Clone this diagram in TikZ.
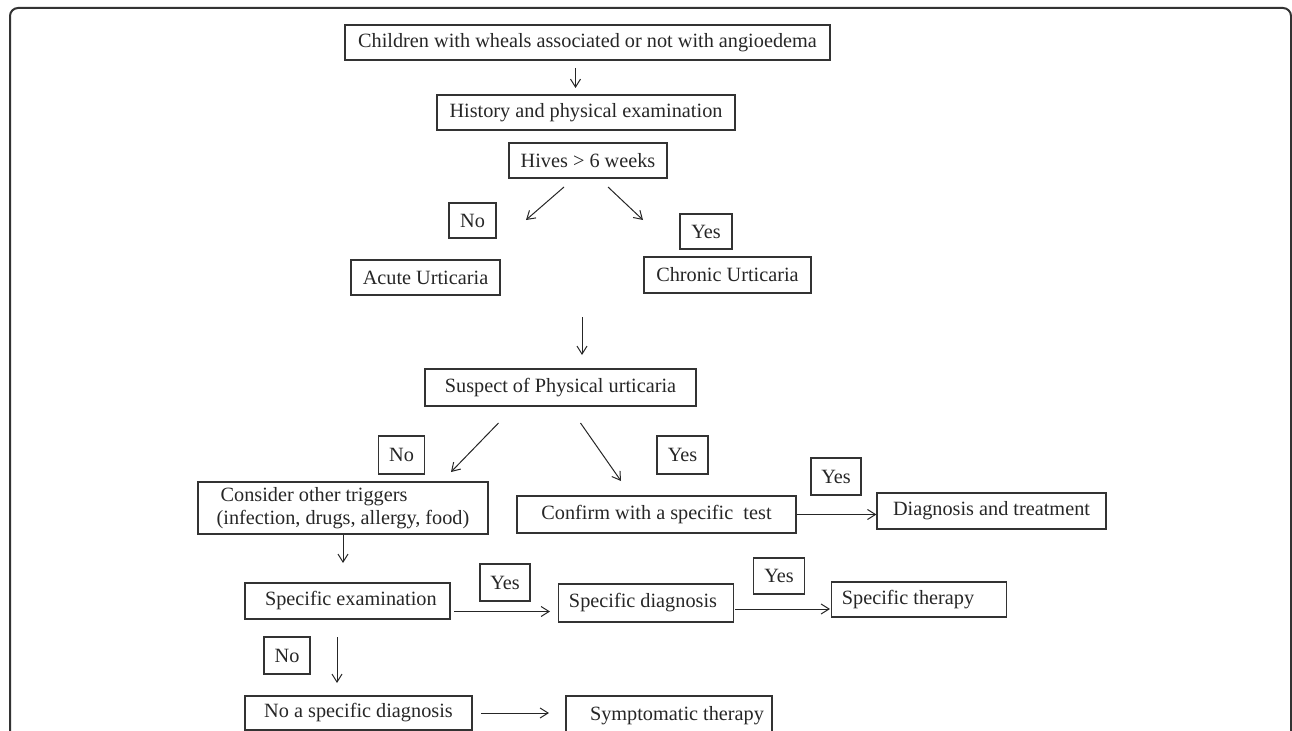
\documentclass[tikz,border=0pt]{standalone}
\usepackage{fontspec}
\setmainfont{Liberation Serif}
\usetikzlibrary{arrows.meta}
\begin{document}
\begin{tikzpicture}[x=0.75pt,y=-0.75pt,
  bx/.style 2 args={draw=black!80, line width=0.9pt, minimum width=#1*0.75pt, minimum height=#2*0.75pt, inner sep=0pt, text=black!85, font=\fontsize{15.2pt}{17.3pt}\selectfont, anchor=center},
  arr/.style={draw=black!85, line width=0.75pt, -{Straight Barb[length=6pt,width=7.5pt]}},
  frame/.style={draw=black!80, line width=1.5pt, rounded corners=6pt}]
\useasboundingbox (0,0) rectangle (1292,731);
\clip (0,0) rectangle (1292,731);
\draw[frame] (10,745) -- (10,8) -- (1291,8) -- (1291,745);

\node[bx={485}{35}] (children) at (587.5,42.5) {Children with wheals associated or not with angioedema};
\node[bx={298}{35}] (history) at (586,112.5) {History and physical examination};
\node[bx={158}{35}] (hives) at (588,160.5) {Hives > 6 weeks};
\node[bx={47}{35}] (no1) at (472.5,220.5) {No};
\node[bx={52}{35}] (yes1) at (706,231.5) {Yes};
\node[bx={149}{35}] (acute) at (425.5,277.5) {Acute Urticaria};
\node[bx={167}{36}] (chronic) at (727.5,275) {Chronic Urticaria};
\node[bx={271}{37}] (suspect) at (560.5,387.5) {Suspect of Physical urticaria};
\node[bx={46}{38}] (no2) at (401.5,455) {No};
\node[bx={51}{38}] (yes2) at (682.5,455) {Yes};
\node[bx={290}{52}, align=left] (consider) at (343,508) {\hspace*{3pt}Consider other triggers\\(infection, drugs, allergy, food)};
\node[bx={279}{37}] (confirm) at (656.5,514.5) {Confirm with a specific\ \ test};
\node[bx={50}{37}] (yes3) at (836,476.5) {Yes};
\node[bx={229}{36}] (diag) at (991.5,511) {Diagnosis and treatment};
\node[bx={205}{36}] (specex) at (347.5,601) {\hspace*{5pt}Specific examination};
\node[bx={50}{37}] (yes4) at (505,582.5) {Yes};
\node[bx={175.5}{38}] (specdiag) at (646,603) {Specific diagnosis\hspace*{4.5pt}};
\node[bx={51.5}{36}] (yes5) at (779,576) {Yes};
\node[bx={175}{35}] (spectherapy) at (919,599.5) {Specific therapy\hspace*{16.5pt}};
\node[bx={46}{37}] (no3) at (287,655.5) {No};
\node[bx={227}{34}] (nodiag) at (358.5,713) {No a specific diagnosis};
\node[bx={206}{40}] (sympt) at (669,716) {\hspace*{12pt}Symptomatic therapy};

\coordinate (a1s) at (575.5,68);  \coordinate (a1e) at (575.5,88);
\coordinate (a2s) at (564,187);   \coordinate (a2e) at (526,220);
\coordinate (a3s) at (608,187);   \coordinate (a3e) at (643,220);
\coordinate (a4s) at (582,317);   \coordinate (a4e) at (582,355);
\coordinate (a5s) at (498.5,423); \coordinate (a5e) at (451,472);
\coordinate (a6s) at (580.5,423); \coordinate (a6e) at (621,481);
\coordinate (a8e) at (343,563);
\coordinate (a9s) at (454,611.5); \coordinate (a9e) at (550,611.5);
\coordinate (a10s) at (735,609);  \coordinate (a10e) at (830,609);
\coordinate (a11s) at (337,637);  \coordinate (a11e) at (337,683);
\coordinate (a12s) at (481,713);  \coordinate (a12e) at (549,713);

\draw[arr] (a1s) -- (a1e);
\draw[arr] (a2s) -- (a2e);
\draw[arr] (a3s) -- (a3e);
\draw[arr] (a4s) -- (a4e);
\draw[arr] (a5s) -- (a5e);
\draw[arr] (a6s) -- (a6e);
\draw[arr] (confirm.east) -- (diag.west |- confirm.east);
\draw[arr] (consider.south) -- (a8e);
\draw[arr] (a9s) -- (a9e);
\draw[arr] (a10s) -- (a10e);
\draw[arr] (a11s) -- (a11e);
\draw[arr] (a12s) -- (a12e);
\end{tikzpicture}
\end{document}
